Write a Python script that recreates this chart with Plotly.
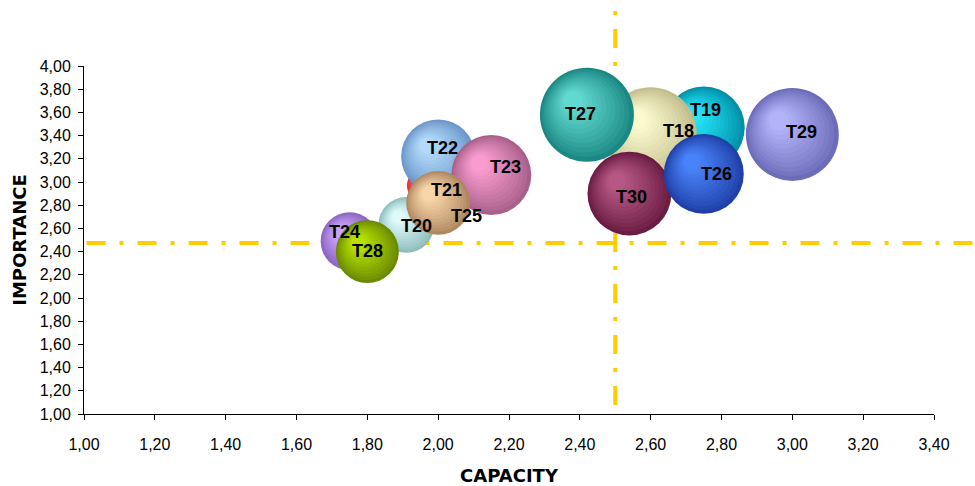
import numpy as np
import plotly.graph_objects as go

# Bubble data, listed in drawing order (later bubbles sit on top)
labels = ["T24", "T20", "T28", "T25", "T22", "T23", "T21",
          "T19", "T18", "T27", "T30", "T26", "T29"]
capacity = [1.75, 1.91, 1.80, 1.96, 2.00, 2.15, 2.00,
            2.75, 2.60, 2.42, 2.54, 2.75, 3.00]
importance = [2.49, 2.63, 2.40, 2.97, 3.22, 3.06, 2.82,
              3.47, 3.42, 3.58, 2.90, 3.07, 3.41]
bubble_size = [8.4, 7.8, 9.9, 2.9, 13.7, 16.0, 10.2,
               16.8, 21.2, 22.1, 17.6, 16.0, 21.6]

# Threshold lines
capacity_cut = 2.50
importance_cut = 2.475

# Tick values
x_ticks = [round(1.0 + 0.2 * i, 2) for i in range(13)]
y_ticks = [round(1.0 + 0.2 * i, 2) for i in range(16)]

# Styling: outer rim colour and highlight colour of each sphere
edge_colors = ["#8a66c2", "#8fbdbd", "#6a8a00", "#e03030", "#6b98c8", "#a8608a", "#b08860",
               "#0090a8", "#c2bd8c", "#1c8884", "#6a1c42", "#2040a8", "#6c6cb8"]
light_colors = ["#d4a8ff", "#e4ffff", "#bce800", "#ff6a6a", "#b8deff", "#ffa0d4", "#ffdcb0",
                "#28eaff", "#ffffd4", "#66ded6", "#bc5c8a", "#4c88ff", "#b8b8ff"]
# label nudges in pixels (dx right, dy down)
label_dx = [-5, 10, 0, 42, 4, 14, 8, 2, 28, -6, 2, 13, 9]
label_dy = [-9, 1, -1, 31, -8, -8, -13, -17, -2, -1, 3, 0, -2]

W, H = 975, 486
M = dict(l=84, r=41, t=66, b=72)
X_RANGE = [1.0, 3.4]
Y_RANGE = [1.0, 4.0]
px_x = (W - M["l"] - M["r"]) / (X_RANGE[1] - X_RANGE[0])
px_y = (H - M["t"] - M["b"]) / (Y_RANGE[1] - Y_RANGE[0])
MAX_DIAM = 94.0
N_BANDS = 12
FONT = "Liberation Sans, Arial, sans-serif"
TITLE_FONT = "DejaVu Sans, Verdana, sans-serif"


def hex_rgb(h):
    h = h.lstrip("#")
    return np.array([int(h[i:i + 2], 16) for i in (0, 2, 4)], dtype=float)


def mix(c1, c2, t):
    c = hex_rgb(c1) * (1 - t) + hex_rgb(c2) * t
    return "rgb(%d,%d,%d)" % tuple(np.round(c).astype(int))


fig = go.Figure()
wmax = max(bubble_size)
for name, cx, cy, w, ec, lc in zip(labels, capacity, importance, bubble_size,
                                   edge_colors, light_colors):
    r = 0.5 * MAX_DIAM * np.sqrt(w / wmax)
    xs, ys, sizes, cols = [], [], [], []
    for i in range(N_BANDS):
        t = i / N_BANDS
        ri = r * (1 - 0.86 * t)
        off = 0.32 * r * t
        xs.append(cx - off / px_x)
        ys.append(cy + off / px_y)
        sizes.append(2 * ri)
        cols.append(mix(ec, lc, t ** 0.85))
    fig.add_trace(go.Scatter(
        x=xs, y=ys, mode="markers", name=name, showlegend=False,
        hoverinfo="skip",
        marker=dict(size=sizes, color=cols, sizemode="diameter",
                    line=dict(width=0), opacity=1),
    ))

for name, cx, cy, dx, dy in zip(labels, capacity, importance, label_dx, label_dy):
    fig.add_annotation(x=cx, y=cy, text="<b>%s</b>" % name, showarrow=False,
                       xshift=dx, yshift=-dy,
                       font=dict(family=FONT, size=18, color="black"))

line_style = dict(color="#FFCC00", width=4, dash="19px,14px,4px,14px")
fig.add_shape(type="line", xref="x", yref="paper", x0=capacity_cut, x1=capacity_cut,
              y0=0.026, y1=1.167, line=line_style, layer="below")
fig.add_shape(type="line", xref="paper", yref="y", x0=0.003, x1=1.05,
              y0=importance_cut, y1=importance_cut, line=line_style, layer="below")

axis_common = dict(showgrid=False, zeroline=False, showline=True, linecolor="black",
                   linewidth=1, ticks="outside", ticklen=5, tickcolor="black",
                   tickwidth=1, tickformat=".2f", automargin=False,
                   tickfont=dict(family=FONT, size=16, color="black"))
fig.update_xaxes(range=X_RANGE, tickvals=x_ticks, ticklabelstandoff=11,
                 title=dict(text="<b>CAPACITY</b>", standoff=18,
                            font=dict(family=TITLE_FONT, size=18, color="black")),
                 **axis_common)
fig.update_yaxes(range=Y_RANGE, tickvals=y_ticks, ticklabelstandoff=4,
                 title=dict(text="<b>IMPORTANCE</b>", standoff=8,
                            font=dict(family=TITLE_FONT, size=18, color="black")),
                 **axis_common)

fig.update_layout(width=W, height=H, margin=M, separators=",.",
                  paper_bgcolor="white", plot_bgcolor="white",
                  font=dict(family=FONT))

fig.write_html("out.html")
